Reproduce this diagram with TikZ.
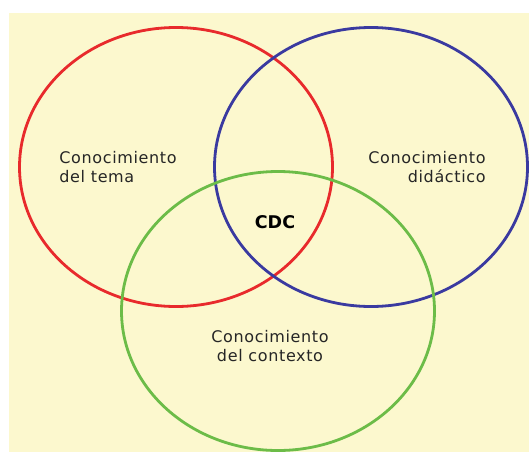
\documentclass[tikz,border=0pt]{standalone}
\usepackage{fontspec}
\setmainfont{DejaVu Sans}
\newfontfamily\lblfont[LetterSpace=4]{DejaVu Sans}
\usetikzlibrary{shapes.geometric}
\definecolor{fondo}{RGB}{252,248,206}
\definecolor{rojo}{RGB}{232,42,44}
\definecolor{azul}{RGB}{58,58,160}
\definecolor{verde}{RGB}{108,188,72}

\begin{document}
\begin{tikzpicture}[x=1pt, y=-1pt, thick,
        set/.style = {ellipse, draw, line width=2.8pt, inner sep=0pt, minimum width=313pt, minimum height=279pt},
        lbl/.style = {font=\lblfont\fontsize{16}{18.5}\selectfont, inner sep=0pt, text=black!85}]
            \useasboundingbox (0,0) rectangle (529,452);
            \fill[fondo] (9,13) rectangle (529,452);

            \node[set, draw=rojo]  (tema)       at (176,167)   {};
            \node[set, draw=azul]  (didactico)  at (371,167)   {};
            \node[set, draw=verde] (contexto)   at (278,311)   {};

            \node[lbl, anchor=west, align=left]   (ltema)     at (59,167)  {Conocimiento\\del tema};
            \node[lbl, anchor=east, align=right]  (ldidactico) at (486,167) {Conocimiento\\didáctico};
            \node[lbl, align=center]              (lcontexto) at (270,346) {Conocimiento\\del contexto};
            \node[font=\bfseries\fontsize{17.5}{20}\selectfont, inner sep=0pt] (cdc) at (275,222) {CDC};
        \end{tikzpicture}
\end{document}
